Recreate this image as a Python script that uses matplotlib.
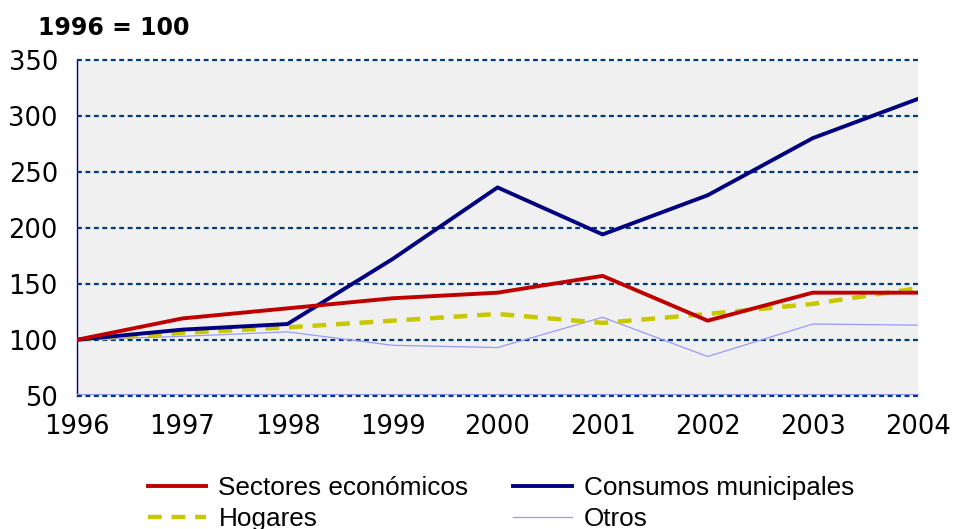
import matplotlib
matplotlib.use('Agg')
import matplotlib.pyplot as plt

'''indices de consumo, base 1996 = 100'''
years = [1996, 1997, 1998, 1999, 2000, 2001, 2002, 2003, 2004]
sectores = [100, 119, 128, 137, 142, 157, 117, 142, 142]
consumos = [100, 109, 114, 172, 236, 194, 229, 280, 315]
hogares = [100, 106, 111, 117, 123, 115, 123, 132, 146]
otros = [100, 103, 107, 95, 93, 120, 85, 114, 113]

yticks = [50, 100, 150, 200, 250, 300, 350]
tick_font = 18.5

fig = plt.figure(figsize=(9.55, 5.29), dpi=100)
ax = fig.add_axes([0.081, 0.252, 0.880, 0.635])
ax.set_facecolor('#F0F0F0')

# dashed horizontal guides, drawn over the spines
for v in yticks:
    ax.axhline(v, color='#003B7A', linestyle=(0, (2.2, 1.6)), linewidth=1.6, zorder=2.7, clip_on=False)

ax.plot(years, otros, color='#9999FF', linewidth=0.9, label='Otros', zorder=3)
ax.plot(years, hogares, color='#C8C800', linewidth=3.2, linestyle=(0, (3.1, 2.2)), label='Hogares', zorder=4)
ax.plot(years, consumos, color='#000080', linewidth=2.8, label='Consumos municipales', zorder=5)
ax.plot(years, sectores, color='#C00000', linewidth=2.8, label='Sectores económicos', zorder=6)

ax.set_xlim(1996, 2004)
ax.set_ylim(50, 350)
ax.set_xticks(years)
ax.set_yticks(yticks)
ax.tick_params(length=0, labelsize=tick_font)
ax.tick_params(axis='x', pad=15)
ax.tick_params(axis='y', pad=14)

for side in ['top', 'right']:
    ax.spines[side].set_visible(False)
ax.spines['left'].set_color('#000099')
ax.spines['left'].set_linewidth(1.0)
ax.spines['bottom'].set_color('#9999FF')
ax.spines['bottom'].set_linewidth(0.8)
ax.spines['bottom'].set_position(('outward', -1.5))

fig.text(0.040, 0.948, '1996 = 100', fontsize=17, fontweight='bold', ha='left', va='center')

handles, labels = ax.get_legend_handles_labels()
# legend fills column by column: Sectores / Hogares, then Consumos / Otros
order = [3, 1, 2, 0]
leg = fig.legend([handles[i] for i in order], [labels[i] for i in order],
                 loc='lower left', bbox_to_anchor=(0.130, -0.048), ncol=2, frameon=False,
                 prop={'family': 'Liberation Sans', 'size': 18.8},
                 handlelength=2.25, handletextpad=0.46, columnspacing=1.72,
                 labelspacing=0.245)

fig.savefig('out.png', dpi=100)
plt.close()
